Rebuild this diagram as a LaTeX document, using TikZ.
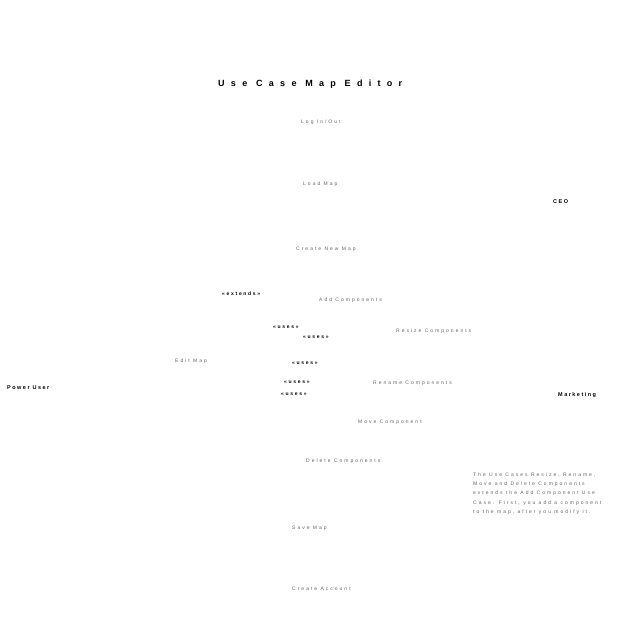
\documentclass[tikz,border=0pt]{standalone}
\usepackage{fontspec}
\setmainfont{Liberation Sans}
\newfontfamily\ucfont[LetterSpace=40]{Liberation Sans}
\newfontfamily\actfont[LetterSpace=27]{Liberation Sans}
\newfontfamily\stfont[LetterSpace=34]{Liberation Sans}
\newfontfamily\ttlfont[LetterSpace=70]{Liberation Sans}
\begin{document}
\begin{tikzpicture}[x=1pt,y=1pt,
  uc/.style={anchor=west,inner sep=0pt,yshift=-1pt,text=black!60,font=\ucfont\fontsize{5}{6}\selectfont},
  actor/.style={anchor=west,inner sep=0pt,yshift=-1pt,text=black,font=\actfont\bfseries\fontsize{5.5}{6.5}\selectfont},
  stereo/.style={anchor=west,inner sep=0pt,yshift=-1pt,text=black,font=\stfont\bfseries\fontsize{5}{6}\selectfont},
  ttl/.style={anchor=west,inner sep=0pt,yshift=-1pt,text=black,font=\ttlfont\bfseries\fontsize{9}{10}\selectfont},
  note/.style={anchor=north west,inner sep=0pt,yshift=-1pt,text=black!60,align=left,font=\ucfont\fontsize{5}{9.3}\selectfont}]
\useasboundingbox (0,0) rectangle (628,-638);
\node[ttl] (title) at (218,-83) {Use Case Map Editor};
\node[uc] (login) at (301,-121) {Log In/Out};
\node[uc] (load) at (303,-183) {Load Map};
\node[uc] (create) at (296,-248) {Create New Map};
\node[uc] (add) at (319,-299) {Add Components};
\node[uc] (resize) at (396,-330) {Resize Components};
\node[uc] (edit) at (175,-360) {Edit Map};
\node[uc] (rename) at (373,-382) {Rename Components};
\node[uc] (move) at (358,-421) {Move Component};
\node[uc] (delete) at (306,-460) {Delete Components};
\node[uc] (save) at (292,-527) {Save Map};
\node[uc] (account) at (292,-588) {Create Account};
\node[actor] (poweruser) at (7,-387) {Power User};
\node[actor] (ceo) at (553,-201) {CEO};
\node[actor] (marketing) at (558,-394) {Marketing};
\node[stereo] (ext) at (222,-293) {«extends»};
\node[stereo] (u1) at (273,-326) {«uses»};
\node[stereo] (u2) at (303,-336) {«uses»};
\node[stereo] (u3) at (292,-362) {«uses»};
\node[stereo] (u4) at (284,-381) {«uses»};
\node[stereo] (u5) at (281,-393) {«uses»};
\node[note] (n) at (473,-471.5) {The Use Cases Resize, Rename,\\Move and Delete Components\\extends the Add Component Use\\Case. First, you add a component\\to the map, after you modify it.};
\end{tikzpicture}
\end{document}
